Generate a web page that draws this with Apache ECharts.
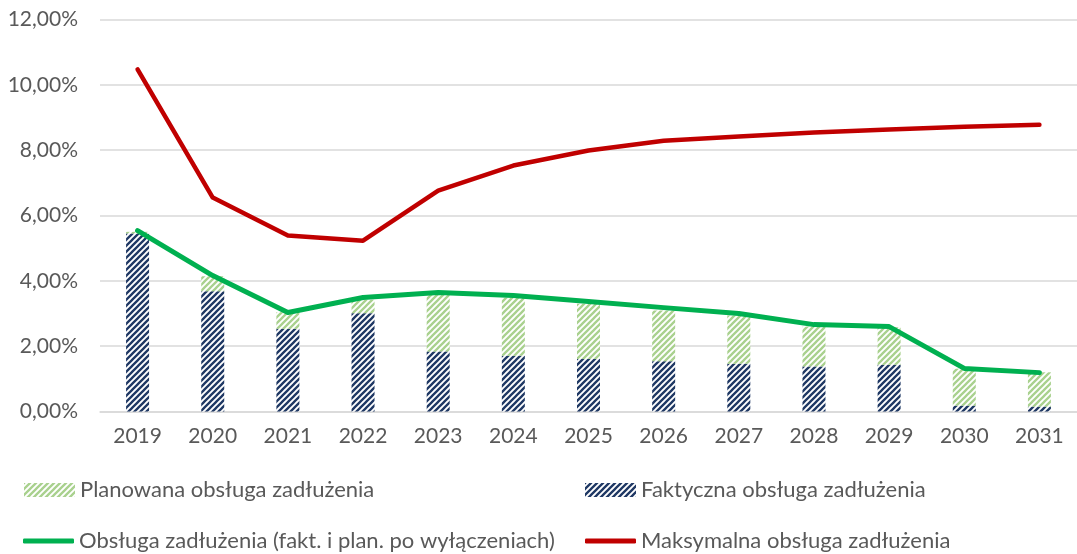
<!DOCTYPE html>
<html><head><meta charset="utf-8">
<script src="https://cdn.jsdelivr.net/npm/echarts@6/dist/echarts.min.js"></script>
<style>html,body{margin:0;padding:0;background:#fff}#c{width:1077px;height:554px}</style>
</head><body><div id="c"></div>
<script>
const years = ['2019','2020','2021','2022','2023','2024','2025','2026','2027','2028','2029','2030','2031'];
const faktyczna = [5.45, 3.68, 2.53, 3.01, 1.84, 1.71, 1.61, 1.54, 1.46, 1.38, 1.43, 0.18, 0.15];
const planowana = [0.05, 0.46, 0.51, 0.41, 1.74, 1.77, 1.69, 1.55, 1.48, 1.22, 1.15, 1.13, 1.05];
const obsluga = [5.54, 4.16, 3.03, 3.49, 3.64, 3.55, 3.37, 3.18, 3.00, 2.66, 2.60, 1.32, 1.19];
const maksymalna = [10.47, 6.55, 5.39, 5.23, 6.76, 7.53, 7.99, 8.29, 8.42, 8.54, 8.63, 8.72, 8.78];
const names = ['Planowana obsługa zadłużenia','Faktyczna obsługa zadłużenia','Obsługa zadłużenia (fakt. i plan. po wyłączeniach)','Maksymalna obsługa zadłużenia'];

function stripe(color){
  const s = 6;
  const c = document.createElement('canvas'); c.width = s; c.height = s;
  const g = c.getContext('2d');
  g.fillStyle = '#fff'; g.fillRect(0,0,s,s);
  g.strokeStyle = color; g.lineWidth = 2.3; g.lineCap = 'square';
  g.beginPath();
  for (const k of [-s, 0, s]) { g.moveTo(k - 1, s + 1); g.lineTo(k + s + 1, -1); }
  g.stroke();
  return {image: c, repeat: 'repeat'};
}
const darkPat = stripe('#1F3864');
const greenPat = stripe('#A9D18E');
const font = 'Lato, "Open Sans", sans-serif';
const txt = {color:'#595959', fontFamily: font, fontSize: 21};

function leg(name, left, top, w, h, icon){
  return {left, top, padding:0, itemWidth:w, itemHeight:h, itemGap:0, icon,
    data:[name], textStyle:Object.assign({}, txt, {fontSize:22, padding:[0,0,0,0]}), selectedMode:false};
}

const chart = echarts.init(document.getElementById('c'), null, {renderer:'canvas'});
chart.setOption({
  animation:false,
  backgroundColor:'#fff',
  grid:{left:100, right:-8, top:19.5, bottom:142.5, containLabel:false},
  legend:[
    leg(names[0], 24, 479, 51, 14, 'rect'),
    leg(names[1], 585, 479, 51, 14, 'rect'),
    leg(names[2], 23, 530, 51, 5, 'roundRect'),
    leg(names[3], 585, 530, 51, 5, 'roundRect')
  ],
  xAxis:{type:'category', data:years, boundaryGap:true,
    axisLine:{lineStyle:{color:'#D9D9D9', width:1.5}}, axisTick:{show:false},
    axisLabel:Object.assign({margin:14}, txt)},
  yAxis:{type:'value', min:0, max:12, interval:2,
    axisLine:{show:false}, axisTick:{show:false},
    splitLine:{lineStyle:{color:'#D9D9D9', width:1.5}},
    axisLabel:Object.assign({margin:22, formatter:v=>v.toFixed(2).replace('.',',')+'%'}, txt)},
  series:[
    {name:names[1], type:'bar', stack:'s', data:faktyczna, barWidth:23, itemStyle:{color:darkPat}},
    {name:names[0], type:'bar', stack:'s', data:planowana, barWidth:23, itemStyle:{color:greenPat}},
    {name:names[2], type:'line', data:obsluga, showSymbol:false, symbol:'none', z:5,
      lineStyle:{color:'#00B050', width:5, cap:'round', join:'round'}, itemStyle:{color:'#00B050'}},
    {name:names[3], type:'line', data:maksymalna, showSymbol:false, symbol:'none', z:5,
      lineStyle:{color:'#C00000', width:4.5, cap:'round', join:'round'}, itemStyle:{color:'#C00000'}}
  ]
});
</script></body></html>
